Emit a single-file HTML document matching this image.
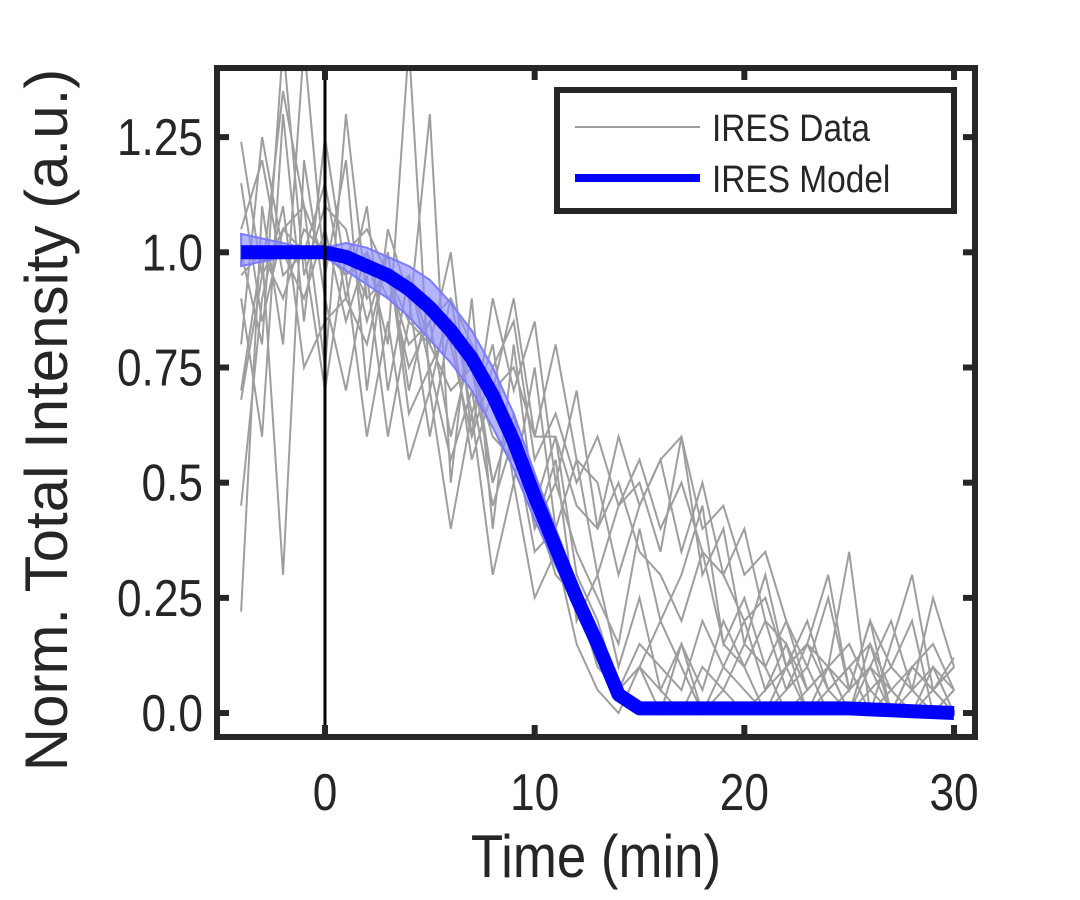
<!DOCTYPE html>
<html><head><meta charset="utf-8"><style>
body{margin:0;background:#fff;width:1080px;height:900px;overflow:hidden}
svg{display:block}
text{font-family:"Liberation Sans",Arial,sans-serif;fill:#262626}
</style></head><body>
<svg id="chart" width="1080" height="900"></svg>
<script>
const times=[-4,-3,-2,-1,0,1,2,3,4,5,6,7,8,9,10,11,12,13,14,15,16,17,18,19,20,21,22,23,24,25,26,27,28,29,30];
const xTicks=[0,10,20,30];
const yTicks=[0,0.25,0.5,0.75,1.0,1.25];
const yTickLabels=["0.0","0.25","0.5","0.75","1.0","1.25"];
const trace1=[1.24,0.95,1.05,1.10,0.98,1.00,0.90,0.95,0.85,0.80,0.70,0.75,0.60,0.55,0.45,0.30,0.25,0.10,0.05,0.15,0.10,0.05,0.20,0.10,0.05,0.00,0.10,0.15,0.05,0.10,0.00,0.05,0.10,0.05,0.00];
const trace2=[0.22,1.10,0.80,1.45,0.95,1.20,0.70,1.05,0.90,0.60,0.85,0.75,0.50,0.65,0.40,0.55,0.20,0.30,0.10,0.25,0.05,0.15,0.00,0.10,0.20,0.05,0.15,0.00,0.10,0.05,0.20,0.00,0.10,0.05,0.10];
const trace3=[0.90,0.60,1.30,0.85,1.25,0.95,1.00,0.80,1.45,0.70,0.90,0.65,0.80,0.50,0.75,0.40,0.55,0.30,0.45,0.50,0.35,0.60,0.30,0.40,0.15,0.30,0.10,0.20,0.05,0.10,0.15,0.00,0.10,0.05,0.12];
const trace4=[0.70,1.00,0.30,1.20,0.90,0.70,0.95,0.60,0.85,1.30,0.50,0.90,0.40,0.80,0.45,0.60,0.30,0.20,0.05,0.10,0.00,0.15,0.05,0.20,0.10,0.00,0.05,0.15,0.10,0.00,0.05,0.10,0.20,0.00,0.05];
const trace5=[1.00,0.80,1.45,0.95,1.10,1.05,0.85,1.00,0.70,0.90,0.80,0.60,0.75,0.85,0.55,0.65,0.50,0.60,0.45,0.55,0.40,0.50,0.35,0.30,0.20,0.25,0.10,0.15,0.30,0.05,0.10,0.20,0.05,0.10,0.05];
const trace6=[0.45,0.90,1.10,0.75,0.85,0.90,0.80,1.00,0.65,0.75,0.55,0.70,0.45,0.60,0.35,0.40,0.25,0.15,0.05,0.10,0.20,0.10,0.00,0.05,0.15,0.10,0.00,0.05,0.10,0.00,0.15,0.05,0.00,0.10,0.00];
const trace7=[1.05,1.20,0.95,1.00,1.15,0.90,1.10,0.70,0.95,0.80,1.00,0.60,0.90,0.70,0.85,0.50,0.70,0.40,0.60,0.45,0.55,0.60,0.40,0.45,0.30,0.35,0.20,0.10,0.25,0.05,0.20,0.10,0.05,0.25,0.10];
const trace8=[0.95,1.00,0.90,1.05,1.00,0.95,0.60,0.85,0.55,0.70,0.40,0.65,0.30,0.50,0.25,0.35,0.15,0.05,0.00,0.10,0.05,0.00,0.10,0.05,0.00,0.05,0.10,0.00,0.05,0.00,0.10,0.00,0.05,0.00,0.05];
const trace9=[0.80,1.25,1.00,0.90,1.05,0.85,1.00,0.90,0.95,0.75,0.85,0.55,0.70,0.90,0.60,0.80,0.55,0.50,0.30,0.45,0.55,0.35,0.50,0.30,0.40,0.20,0.15,0.05,0.10,0.35,0.00,0.15,0.30,0.05,0.10];
const trace10=[0.68,0.95,1.35,1.10,0.75,1.30,0.90,0.95,0.80,0.85,0.60,0.80,0.50,0.65,0.40,0.50,0.35,0.25,0.15,0.40,0.20,0.30,0.45,0.15,0.25,0.10,0.20,0.05,0.10,0.15,0.05,0.00,0.10,0.15,0.05];
const trace11=[1.15,0.85,1.05,1.00,0.70,1.00,1.05,0.95,0.75,0.85,0.90,0.80,0.70,0.75,0.60,0.60,0.45,0.40,0.50,0.35,0.30,0.20,0.35,0.15,0.10,0.20,0.05,0.10,0.00,0.05,0.10,0.05,0.00,0.05,0.00];
const traces=[trace1,trace2,trace3,trace4,trace5,trace6,trace7,trace8,trace9,trace10,trace11];
const modelMain=[1.00,1.00,1.00,1.00,1.00,0.99,0.97,0.95,0.92,0.88,0.83,0.77,0.69,0.59,0.47,0.36,0.25,0.15,0.04,0.01,0.01,0.01,0.01,0.01,0.01,0.01,0.01,0.01,0.01,0.01,0.008,0.006,0.004,0.002,0.00];
const modelUpper=[1.04,1.03,1.02,1.01,1.01,1.02,1.01,0.99,0.97,0.94,0.89,0.83,0.75,0.65,0.52,0.40,0.28,0.16,0.05,0.015,0.015,0.015,0.015,0.015,0.015,0.015,0.015,0.015,0.015,0.015,0.012,0.01,0.008,0.006,0.004];
const modelLower=[0.97,0.98,0.99,1.00,0.99,0.96,0.93,0.90,0.86,0.81,0.76,0.70,0.62,0.53,0.42,0.32,0.22,0.13,0.035,0.005,0.005,0.005,0.005,0.005,0.005,0.005,0.005,0.005,0.005,0.005,0.004,0.002,0.00,-0.002,-0.004];
const L=217,R=975,T=68,B=737;
const xmin=-5.15,xmax=31.0,ymin=-0.052,ymax=1.4;
const xs=v=>L+(v-xmin)/(xmax-xmin)*(R-L);
const ys=v=>B-(v-ymin)/(ymax-ymin)*(B-T);
const NS="http://www.w3.org/2000/svg";
const svg=document.getElementById('chart');
function mk(tag,at,parent){const e=document.createElementNS(NS,tag);for(const k in at)e.setAttribute(k,at[k]);(parent||svg).appendChild(e);return e;}
const defs=mk('defs',{});
const cp=mk('clipPath',{id:'clip'},defs);
mk('rect',{x:L,y:T,width:R-L,height:B-T},cp);
const plot=mk('g',{'clip-path':'url(#clip)'});


traces.forEach((tr,i)=>{
  const p=mk('polyline',{points:tr.map((v,j)=>xs(times[j])+','+ys(v)).join(' '),fill:'none',stroke:'#9e9e9e','stroke-width':2},plot);
  
  
});
const bandPts=modelUpper.map((v,j)=>xs(times[j])+','+ys(v)).concat(modelLower.map((v,j)=>xs(times[j])+','+ys(v)).reverse()).join(' ');
const band=mk('polygon',{points:bandPts,fill:'#8c8cff','fill-opacity':0.65,stroke:'#7b7bff','stroke-width':2},plot);


const ml=mk('polyline',{points:modelMain.map((v,j)=>xs(times[j])+','+ys(v)).join(' '),fill:'none',stroke:'#0000ff','stroke-width':14,'stroke-linejoin':'round'},plot);


const vl=mk('line',{x1:xs(0),x2:xs(0),y1:T,y2:B,stroke:'#000','stroke-width':3});


xTicks.forEach(t=>{
  const x=xs(t);
  mk('line',{x1:x,x2:x,y1:B,y2:B-12,stroke:'#262626','stroke-width':6});
  mk('line',{x1:x,x2:x,y1:T,y2:T+12,stroke:'#262626','stroke-width':6});
  const tx=mk('text',{'font-size':52,'text-anchor':'middle',transform:'translate('+x+','+(B+73)+') scale(0.85,1)'});tx.textContent=t;
  
  
});
yTicks.forEach((t,i)=>{
  const y=ys(t);
  mk('line',{x1:L,x2:L+12,y1:y,y2:y,stroke:'#262626','stroke-width':6});
  mk('line',{x1:R,x2:R-12,y1:y,y2:y,stroke:'#262626','stroke-width':6});
  const tx=mk('text',{'font-size':52,'text-anchor':'end',transform:'translate('+(L-14)+','+(y+18)+') scale(0.85,1)'});tx.textContent=yTickLabels[i];
  
  
});
const frame=mk('rect',{x:L,y:T,width:R-L,height:B-T,fill:'none',stroke:'#262626','stroke-width':6});


const xt=mk('text',{'font-size':60,'text-anchor':'middle',transform:'translate(596,877) scale(0.88,1)'});xt.textContent='Time (min)';


const yt=mk('text',{x:0,y:0,'font-size':60,'text-anchor':'middle',transform:'translate(67,420) rotate(-90)'});yt.textContent='Norm. Total Intensity (a.u.)';


const lg=mk('g',{});


mk('rect',{x:557,y:90,width:397,height:121,fill:'#fff',stroke:'#262626','stroke-width':6},lg);
mk('line',{x1:575,x2:700,y1:127,y2:127,stroke:'#9e9e9e','stroke-width':2},lg);
mk('line',{x1:575,x2:700,y1:178,y2:178,stroke:'#0000ff','stroke-width':8},lg);
const l1=mk('text',{'font-size':38,transform:'translate(712,141) scale(0.88,1)'},lg);l1.textContent='IRES Data';


const l2=mk('text',{'font-size':38,transform:'translate(712,192) scale(0.88,1)'},lg);l2.textContent='IRES Model';


</script>
</body></html>
